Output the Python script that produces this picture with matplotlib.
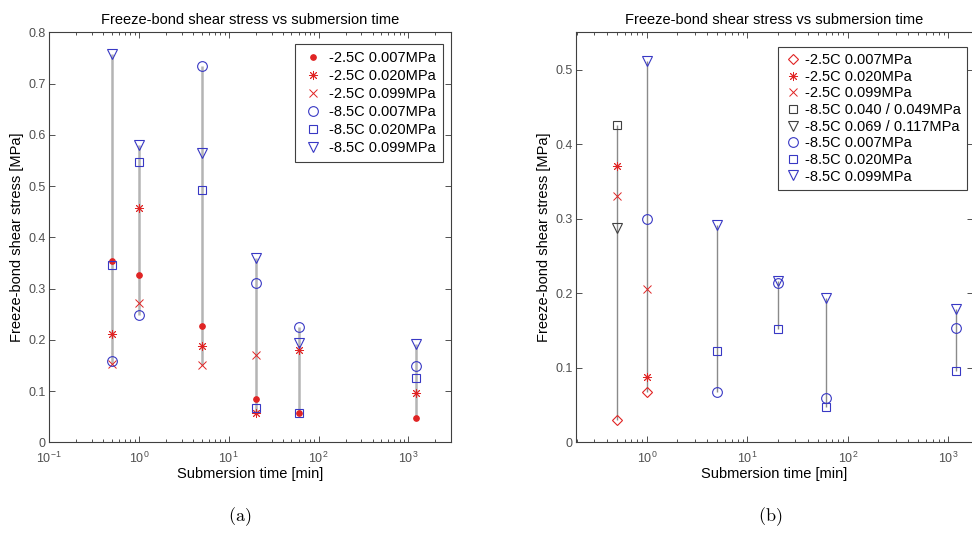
import numpy as np
import matplotlib
matplotlib.use("Agg")
import matplotlib.pyplot as plt
from matplotlib.ticker import LogLocator, FixedLocator, FixedFormatter, LogFormatterMathtext, NullFormatter

plt.rcParams['font.family'] = ['Liberation Sans', 'DejaVu Sans']
plt.rcParams['mathtext.fontset'] = 'custom'
plt.rcParams['mathtext.rm'] = 'Liberation Sans'
plt.rcParams['mathtext.it'] = 'Liberation Sans:italic'
plt.rcParams['mathtext.bf'] = 'Liberation Sans:bold'

nan = np.nan

# Submersion times [min]
times = [0.5, 1, 5, 20, 60, 1200]

# (a) freeze-bond shear stress [MPa]
a_m25_p007 = [0.354, 0.327, 0.226, 0.084, 0.057, 0.047]
a_m25_p020 = [0.212, 0.458, 0.187, 0.057, 0.180, 0.097]
a_m25_p099 = [0.152, 0.272, 0.150, 0.170, nan, nan]
a_m85_p007 = [0.159, 0.248, 0.734, 0.311, 0.224, 0.148]
a_m85_p020 = [0.346, 0.547, 0.492, 0.066, 0.058, 0.125]
a_m85_p099 = [0.757, 0.580, 0.565, 0.360, 0.193, 0.192]

# (b) freeze-bond shear stress [MPa]
b_m25_p007 = [0.030, 0.067, nan, nan, nan, nan]
b_m25_p020 = [0.371, 0.088, nan, nan, nan, nan]
b_m25_p099 = [0.331, 0.205, nan, nan, nan, nan]
b_m85_p040 = [0.425, nan, nan, nan, nan, nan]
b_m85_p069 = [0.287, nan, nan, nan, nan, nan]
b_m85_p007 = [nan, 0.299, 0.067, 0.214, 0.059, 0.153]
b_m85_p020 = [nan, nan, 0.123, 0.152, 0.047, 0.095]
b_m85_p099 = [nan, 0.512, 0.292, 0.216, 0.193, 0.179]

labels_a = ['-2.5C 0.007MPa', '-2.5C 0.020MPa', '-2.5C 0.099MPa',
            '-8.5C 0.007MPa', '-8.5C 0.020MPa', '-8.5C 0.099MPa']
labels_b = ['-2.5C 0.007MPa', '-2.5C 0.020MPa', '-2.5C 0.099MPa',
            '-8.5C 0.040 / 0.049MPa', '-8.5C 0.069 / 0.117MPa',
            '-8.5C 0.007MPa', '-8.5C 0.020MPa', '-8.5C 0.099MPa']

yticks_a = [0, 0.1, 0.2, 0.3, 0.4, 0.5, 0.6, 0.7, 0.8]
yticks_b = [0, 0.1, 0.2, 0.3, 0.4, 0.5]

RED = '#e02424'
BLUE = '#3838c4'
DARK = '#404040'
ASTER = (8, 2, 0)

sty = {
    'dot':  dict(marker='o', ms=4.0, mfc=RED, mec=RED, mew=0.8),
    'ast':  dict(marker=ASTER, ms=6.5, mfc='none', mec=RED, mew=0.65),
    'x':    dict(marker='x', ms=5.5, mfc='none', mec=RED, mew=0.7),
    'dia':  dict(marker='D', ms=5.5, mfc='none', mec=RED, mew=0.8),
    'ksq':  dict(marker='s', ms=5.5, mfc='none', mec=DARK, mew=0.8),
    'ktri': dict(marker='v', ms=7.0, mfc='none', mec=DARK, mew=0.8),
    'bo':   dict(marker='o', ms=7.0, mfc='none', mec=BLUE, mew=0.8),
    'bsq':  dict(marker='s', ms=5.5, mfc='none', mec=BLUE, mew=0.8),
    'btri': dict(marker='v', ms=7.0, mfc='none', mec=BLUE, mew=0.8),
}

fig = plt.figure(figsize=(9.72, 5.33), dpi=100)
ax_a = fig.add_axes([0.0504, 0.1702, 0.4136, 0.7692])
ax_b = fig.add_axes([0.5926, 0.1702, 0.4084, 0.7692])


def draw(ax, series, styles, labels, line_color, line_width):
    arr = np.array(series, dtype=float)
    lo = np.nanmin(arr, axis=0)
    hi = np.nanmax(arr, axis=0)
    ax.vlines(times, lo, hi, colors=line_color, linewidth=line_width, zorder=1)
    for vals, key, lab in zip(series, styles, labels):
        ax.plot(times, vals, linestyle='none', label=lab, zorder=3, **sty[key])


def style_axes(ax, xlim, ylim, yticks):
    ax.set_xscale('log')
    ax.set_xlim(*xlim)
    ax.set_ylim(*ylim)
    ax.xaxis.set_major_locator(LogLocator(base=10, numticks=10))
    ax.xaxis.set_minor_locator(LogLocator(base=10, subs=np.arange(2, 10), numticks=10))
    ax.xaxis.set_major_formatter(LogFormatterMathtext())
    ax.xaxis.set_minor_formatter(NullFormatter())
    ax.yaxis.set_major_locator(FixedLocator(yticks))
    ax.yaxis.set_major_formatter(FixedFormatter(['%g' % v for v in yticks]))
    ax.tick_params(which='both', direction='in', top=True, right=True,
                   color='#505050', labelcolor='#505050', width=0.7)
    ax.tick_params(which='major', length=4, labelsize=9)
    ax.tick_params(axis='x', which='major', pad=6)
    ax.tick_params(axis='y', which='major', pad=2.5)
    ax.tick_params(which='minor', length=2)
    for s in ax.spines.values():
        s.set_color('#404040')
        s.set_linewidth(0.8)
    ax.set_title('Freeze-bond shear stress vs submersion time', fontsize=10.5, pad=6)
    ax.set_xlabel('Submersion time [min]', fontsize=10.5, labelpad=1)
    ax.set_ylabel('Freeze-bond shear stress [MPa]', fontsize=10.5, labelpad=3)


draw(ax_a,
     [a_m25_p007, a_m25_p020, a_m25_p099, a_m85_p007, a_m85_p020, a_m85_p099],
     ['dot', 'ast', 'x', 'bo', 'bsq', 'btri'], labels_a, '#b4b4b4', 1.8)
style_axes(ax_a, (0.1, 2980), (0, 0.8), yticks_a)
leg_a = ax_a.legend(loc='upper right', bbox_to_anchor=(0.98, 0.9715), borderaxespad=0,
                    fontsize=10.5, numpoints=1, handlelength=1.4, handletextpad=0.4,
                    borderpad=0.5, labelspacing=0.27, fancybox=False, framealpha=1)
leg_a.get_frame().set_edgecolor('#404040')
leg_a.get_frame().set_linewidth(0.8)

draw(ax_b,
     [b_m25_p007, b_m25_p020, b_m25_p099, b_m85_p040, b_m85_p069,
      b_m85_p007, b_m85_p020, b_m85_p099],
     ['dia', 'ast', 'x', 'ksq', 'ktri', 'bo', 'bsq', 'btri'], labels_b, '#8a8a8a', 1.0)
style_axes(ax_b, (10 ** -0.705, 10 ** 3.245), (0, 0.55), yticks_b)
leg_b = ax_b.legend(loc='upper right', bbox_to_anchor=(0.985, 0.965), borderaxespad=0,
                    fontsize=10.5, numpoints=1, handlelength=1.2, handletextpad=0.2,
                    borderpad=0.45, labelspacing=0.18, fancybox=False, framealpha=1)
leg_b.get_frame().set_edgecolor('#404040')
leg_b.get_frame().set_linewidth(0.8)

fig.text(0.247, 0.031, r'$\mathrm{(a)}$', ha='center', va='center', fontsize=13,
         math_fontfamily='cm')
fig.text(0.792, 0.031, r'$\mathrm{(b)}$', ha='center', va='center', fontsize=13,
         math_fontfamily='cm')

fig.savefig('out.png', dpi=100)
